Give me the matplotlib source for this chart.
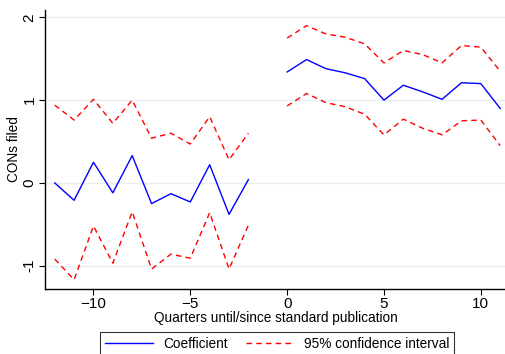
import numpy as np
import matplotlib.pyplot as plt

plt.rcParams['font.family'] = ['Liberation Sans', 'DejaVu Sans']

# event-time quarters
pre_q = [-12, -11, -10, -9, -8, -7, -6, -5, -4, -3, -2]
post_q = [0, 1, 2, 3, 4, 5, 6, 7, 8, 9, 10, 11]

pre_coef = [0.00, -0.21, 0.25, -0.12, 0.33, -0.25, -0.13, -0.23, 0.22, -0.38, 0.04]
pre_hi = [0.94, 0.76, 1.01, 0.72, 1.00, 0.54, 0.60, 0.47, 0.80, 0.28, 0.60]
pre_lo = [-0.92, -1.17, -0.52, -0.97, -0.35, -1.04, -0.86, -0.91, -0.36, -1.04, -0.51]

post_coef = [1.34, 1.49, 1.38, 1.33, 1.26, 1.00, 1.18, 1.10, 1.01, 1.21, 1.20, 0.90]
post_hi = [1.75, 1.90, 1.80, 1.76, 1.68, 1.45, 1.60, 1.55, 1.45, 1.66, 1.64, 1.35]
post_lo = [0.93, 1.08, 0.97, 0.92, 0.83, 0.58, 0.77, 0.66, 0.58, 0.75, 0.76, 0.45]

yticks = [-1, 0, 1, 2]
xticks = [-10, -5, 0, 5, 10]

fig = plt.figure(figsize=(5.06, 3.54), dpi=100)
ax = fig.add_axes([0.089, 0.184, 0.911, 0.788])

dash = (0, (4, 3))
for q, c, hi, lo in [(pre_q, pre_coef, pre_hi, pre_lo), (post_q, post_coef, post_hi, post_lo)]:
    ax.plot(q, c, color="#0000ff", lw=1.0)
    ax.plot(q, hi, color="#ff0000", lw=1.0, ls=dash)
    ax.plot(q, lo, color="#ff0000", lw=1.0, ls=dash)

for y in yticks:
    ax.axhline(y, color="#e8eff2", lw=1.0, zorder=0)

ax.set_xlim(-12.5, 11.3)
ax.set_ylim(-1.28, 2.09)
ax.set_xticks(xticks)
ax.set_yticks(yticks)
ax.set_yticklabels([str(v) for v in yticks], rotation=90, va="center")
ax.tick_params(labelsize=11, length=4, width=0.8, colors="black", pad=2)
ax.spines["top"].set_visible(False)
ax.spines["right"].set_visible(False)
ax.spines["left"].set_linewidth(1.0)
ax.spines["bottom"].set_linewidth(1.0)
ax.set_xlabel("Quarters until/since standard publication", fontsize=9.8, labelpad=0)
ax.set_ylabel("CONs filed", fontsize=9.8, labelpad=1)

h1, = ax.plot([], [], color="#0000ff", lw=1.0)
h2, = ax.plot([], [], color="#ff0000", lw=1.0, ls=dash)
leg = fig.legend([h1, h2], ["Coefficient", "95% confidence interval"], ncol=2,
                 loc="upper center", bbox_to_anchor=(0.548, 0.062), fontsize=9.8,
                 frameon=True, fancybox=False, edgecolor="black", handlelength=3.5,
                 handletextpad=0.75, columnspacing=1.4, borderpad=0.35,
                 borderaxespad=0)
leg.get_frame().set_linewidth(0.8)

fig.savefig("out.png", dpi=100)
